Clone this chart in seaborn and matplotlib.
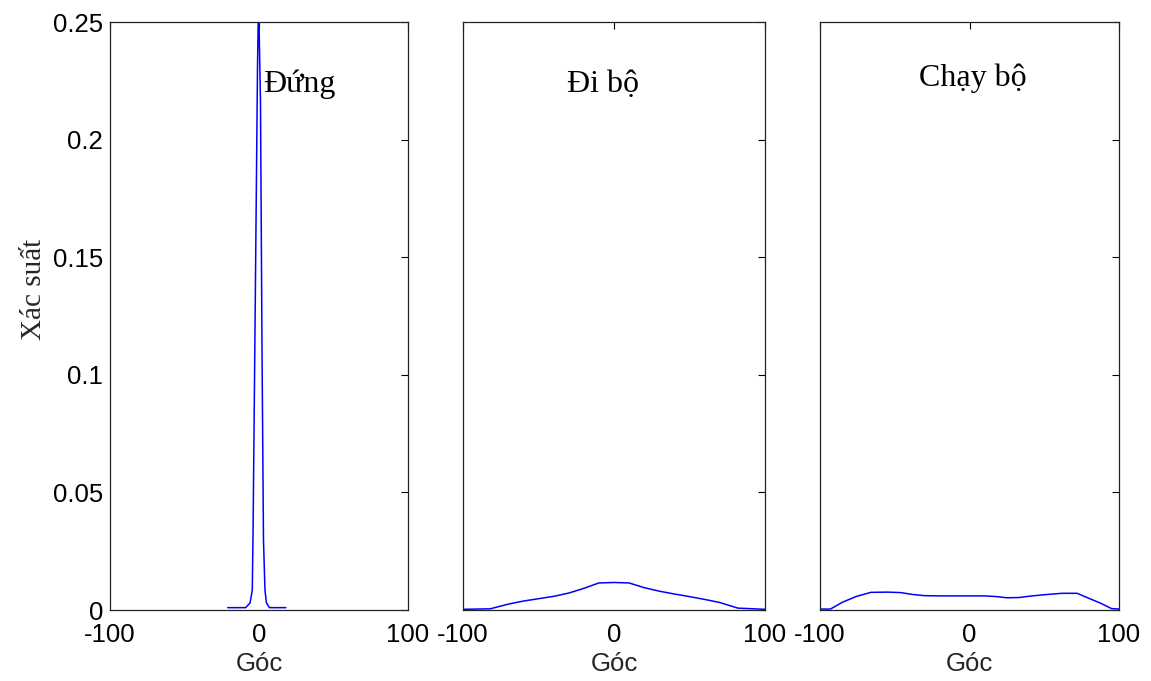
import matplotlib
matplotlib.use("Agg")
import matplotlib.pyplot as plt
import seaborn as sns
import pandas as pd

# Angle (degrees) and probability for each activity
goc_dung = [-21, -9, -6, -4.5, -4, -3, -1, -0.3, 1, 2, 3, 4, 5, 7, 18]
xs_dung = [0.001, 0.001, 0.003, 0.0085, 0.033, 0.098, 0.231, 0.26, 0.216,
           0.113, 0.03, 0.0085, 0.003, 0.001, 0.001]

goc_dibo = [-100, -82, -70, -60, -50, -40, -30, -20, -10, 0, 10, 20, 30, 40,
            50, 60, 70, 82, 100]
xs_dibo = [0.0003, 0.0005, 0.0025, 0.0038, 0.0048, 0.0058, 0.0072, 0.0092,
           0.0115, 0.0117, 0.0115, 0.0095, 0.0080, 0.0068, 0.0057, 0.0045,
           0.0032, 0.0008, 0.0003]

goc_chay = [-100, -93, -85, -76, -66, -55, -46, -38, -30, -20, -10, 0, 10, 18,
            25, 33, 42, 52, 62, 72, 79, 88, 95, 100]
xs_chay = [0.0004, 0.0004, 0.0033, 0.0057, 0.0075, 0.0076, 0.0074, 0.0066,
           0.0061, 0.006, 0.006, 0.006, 0.006, 0.0057, 0.0052, 0.0053, 0.006,
           0.0066, 0.0071, 0.0071, 0.0052, 0.0028, 0.0006, 0.0004]

titles = ["Đứng", "Đi bộ", "Chạy bộ"]
title_x = [27, -7, 2]
title_y = [0.2235, 0.2235, 0.226]
xticks = [-100, 0, 100]
yticks = [0, 0.05, 0.1, 0.15, 0.2, 0.25]

sns.set_style("white")
plt.rcParams["font.family"] = ["Liberation Sans", "DejaVu Sans"]
serif = ["Liberation Serif", "DejaVu Serif"]

W, H = 1151, 681
fig = plt.figure(figsize=(W / 100, H / 100), dpi=100)

panels = [(110, 408), (463, 765), (820, 1119)]
top, bottom = 22, 610
series = [(goc_dung, xs_dung), (goc_dibo, xs_dibo), (goc_chay, xs_chay)]

for i, ((l, r), (gx, gy)) in enumerate(zip(panels, series)):
    ax = fig.add_axes([l / W, (H - bottom) / H, (r - l) / W, (bottom - top) / H])
    df = pd.DataFrame({"Góc": gx, "Xác suất": gy})
    sns.lineplot(data=df, x="Góc", y="Xác suất", ax=ax, color="#0000ff",
                 linewidth=1.1, sort=False, estimator=None)
    ax.set_xlim(-100, 100)
    ax.set_ylim(0, 0.25)
    ax.set_xticks(xticks)
    ax.set_xticklabels([str(t) for t in xticks])
    ax.set_yticks(yticks)
    if i == 0:
        ax.set_yticklabels(["0", "0.05", "0.1", "0.15", "0.2", "0.25"])
        ax.set_ylabel("Xác suất", family=serif, fontsize=21)
        ax.yaxis.set_label_coords(-0.21, 0.545)
    else:
        ax.set_yticklabels([])
        ax.set_ylabel("")
    ax.set_xlabel("Góc", fontsize=18.5, labelpad=4)
    ax.tick_params(direction="in", length=5, width=0.8, top=True, right=True,
                   labelsize=18.5, colors="black", pad=5)
    ax.tick_params(axis="x", pad=9)
    for s in ax.spines.values():
        s.set_visible(True)
        s.set_color("#222222")
        s.set_linewidth(0.9)
    ax.text(title_x[i], title_y[i], titles[i], ha="center", va="center",
            fontsize=23, family=serif, color="black")

fig.savefig("out.png", dpi=100, facecolor="white")
